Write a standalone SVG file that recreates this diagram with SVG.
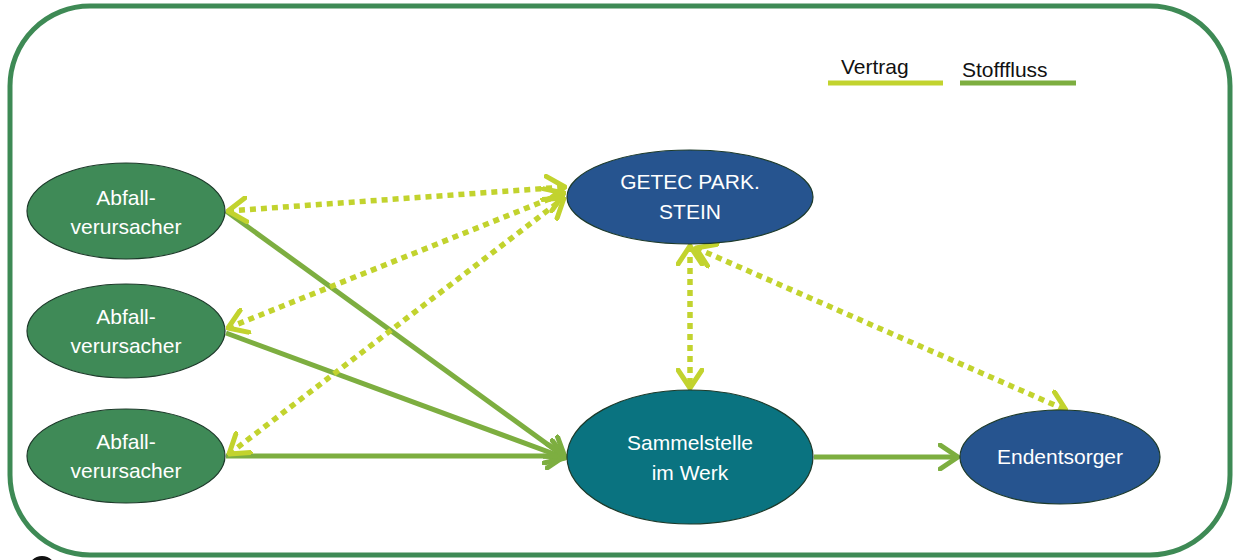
<svg xmlns="http://www.w3.org/2000/svg" width="1234" height="560" viewBox="0 0 1234 560">
<style>
.frame{fill:#fff;stroke:#3E8A55;stroke-width:5}
.node{stroke:#1d3a2a;stroke-width:1.2}
.abf{fill:#3F8A57}
.blue{fill:#26548F}
.teal{fill:#0A7380}
.lbl{font-family:"Liberation Sans",Arial,sans-serif;font-size:21px;fill:#fff;text-anchor:middle}
.leg{font-family:"Liberation Sans",Arial,sans-serif;font-size:21px;fill:#111}
.flow{stroke:#7DAE40;stroke-width:5;fill:none}
.contract{stroke:#C2D32E;stroke-width:5.5;fill:none;stroke-dasharray:6 5}
</style>
<defs>
<marker id="af" viewBox="0 0 22 28" refX="20" refY="14" markerWidth="22" markerHeight="28" markerUnits="userSpaceOnUse" orient="auto">
<path d="M2,2 L20,14 L2,26" fill="none" stroke="#7DAE40" stroke-width="5" stroke-linecap="round" stroke-linejoin="round"/>
</marker>
<marker id="ac" viewBox="0 0 22 28" refX="20" refY="14" markerWidth="22" markerHeight="28" markerUnits="userSpaceOnUse" orient="auto-start-reverse">
<path d="M2,2 L20,14 L2,26" fill="none" stroke="#C2D32E" stroke-width="5" stroke-linecap="round" stroke-linejoin="round" stroke-dasharray="none"/>
</marker>
</defs>
<rect class="frame" x="10" y="6" width="1220" height="549" rx="80" ry="80"/>
<circle cx="42" cy="570" r="14" fill="#111"/>
<g id="legend">
<text class="leg" x="841" y="74">Vertrag</text>
<line x1="828" y1="83" x2="943" y2="83" stroke="#C2D32E" stroke-width="5"/>
<text class="leg" x="962" y="77">Stofffluss</text>
<line x1="960" y1="83" x2="1076" y2="83" stroke="#7DAE40" stroke-width="5"/>
</g>
<g id="connectors">
<line class="flow" x1="226" y1="211" x2="565" y2="457" marker-end="url(#af)"/>
<line class="flow" x1="226" y1="333" x2="565" y2="458" marker-end="url(#af)"/>
<line class="flow" x1="226" y1="456" x2="565" y2="456" marker-end="url(#af)"/>
<line class="flow" x1="814" y1="457" x2="958" y2="457" marker-end="url(#af)"/>
<line class="contract" x1="228" y1="211" x2="565" y2="187" marker-start="url(#ac)" marker-end="url(#ac)"/>
<line class="contract" x1="228" y1="328" x2="564" y2="193" marker-start="url(#ac)" marker-end="url(#ac)"/>
<line class="contract" x1="229" y1="454" x2="564" y2="198" marker-start="url(#ac)" marker-end="url(#ac)"/>
<line class="contract" x1="690" y1="246" x2="690" y2="388" marker-start="url(#ac)" marker-end="url(#ac)"/>
<line class="contract" x1="696" y1="248" x2="1066" y2="410" marker-start="url(#ac)" marker-end="url(#ac)"/>
</g>
<g id="abfall1">
<ellipse class="node abf" cx="126" cy="211" rx="99" ry="48"/>
<text class="lbl" x="126" y="205">Abfall-</text>
<text class="lbl" x="126" y="234">verursacher</text>
</g>
<g id="abfall2">
<ellipse class="node abf" cx="126" cy="331" rx="99" ry="47"/>
<text class="lbl" x="126" y="324">Abfall-</text>
<text class="lbl" x="126" y="353">verursacher</text>
</g>
<g id="abfall3">
<ellipse class="node abf" cx="126" cy="456" rx="99" ry="47"/>
<text class="lbl" x="126" y="449">Abfall-</text>
<text class="lbl" x="126" y="478">verursacher</text>
</g>
<g id="getec">
<ellipse class="node blue" cx="690" cy="197" rx="123" ry="47"/>
<text class="lbl" x="690" y="189">GETEC PARK.</text>
<text class="lbl" x="690" y="219">STEIN</text>
</g>
<g id="sammelstelle">
<ellipse class="node teal" cx="690" cy="457" rx="123" ry="67"/>
<text class="lbl" x="690" y="450">Sammelstelle</text>
<text class="lbl" x="690" y="480">im Werk</text>
</g>
<g id="endentsorger">
<ellipse class="node blue" cx="1060" cy="457" rx="100" ry="47"/>
<text class="lbl" x="1060" y="464">Endentsorger</text>
</g>
</svg>
